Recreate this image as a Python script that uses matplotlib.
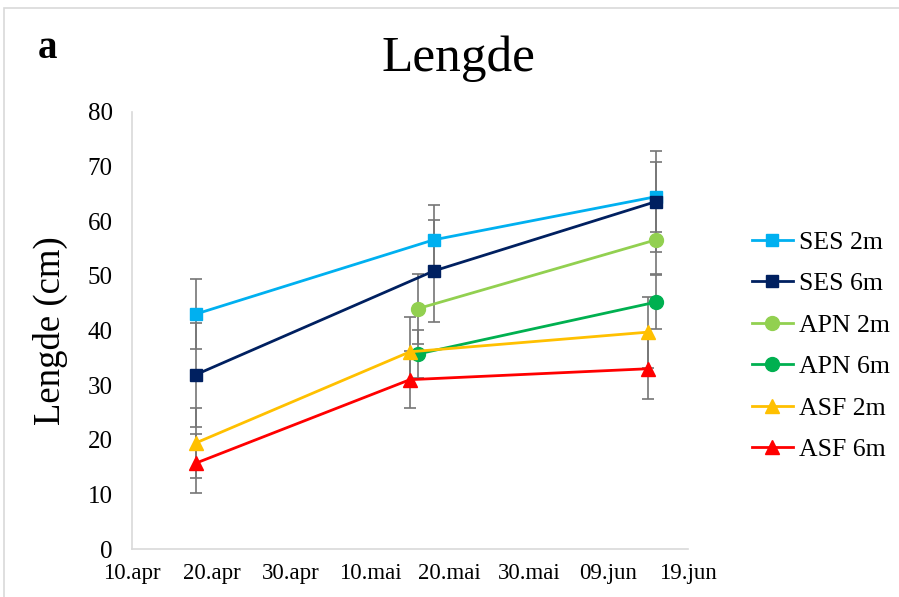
import datetime as dt
import matplotlib
matplotlib.use("Agg")
import matplotlib.pyplot as plt
from matplotlib.patches import Rectangle

plt.rcParams['font.family'] = ['Liberation Serif', 'DejaVu Serif']

# -----------------------------
# DATA
# -----------------------------
series = ["SES 2m", "SES 6m", "APN 2m", "APN 6m", "ASF 2m", "ASF 6m"]

ses2_dates = ["2015-04-18", "2015-05-18", "2015-06-15"]
ses2_vals = [43.0, 56.6, 64.5]
ses2_err = [6.4, 6.4, 6.4]

ses6_dates = ["2015-04-18", "2015-05-18", "2015-06-15"]
ses6_vals = [31.9, 50.9, 63.6]
ses6_err = [9.5, 9.3, 9.3]

apn2_dates = ["2015-05-16", "2015-06-15"]
apn2_vals = [44.0, 56.6]
apn2_err = [6.4, 6.2]

apn6_dates = ["2015-05-16", "2015-06-15"]
apn6_vals = [35.7, 45.2]
apn6_err = [4.4, 4.9]

asf2_dates = ["2015-04-18", "2015-05-15", "2015-06-14"]
asf2_vals = [19.4, 36.1, 39.7]
asf2_err = [6.4, 6.4, 6.5]

asf6_dates = ["2015-04-18", "2015-05-15", "2015-06-14"]
asf6_vals = [15.7, 31.0, 33.0]
asf6_err = [5.4, 5.2, 5.5]

tick_dates = ["2015-04-10", "2015-04-20", "2015-04-30", "2015-05-10",
              "2015-05-20", "2015-05-30", "2015-06-09", "2015-06-19"]
tick_labels = ["10.apr", "20.apr", "30.apr", "10.mai",
               "20.mai", "30.mai", "09.jun", "19.jun"]

all_dates = [ses2_dates, ses6_dates, apn2_dates, apn6_dates, asf2_dates, asf6_dates]
all_vals = [ses2_vals, ses6_vals, apn2_vals, apn6_vals, asf2_vals, asf6_vals]
all_errs = [ses2_err, ses6_err, apn2_err, apn6_err, asf2_err, asf6_err]

colors = ["#00b0f0", "#002060", "#92d050", "#00b050", "#ffc000", "#ff0000"]
markers = ["s", "s", "o", "o", "^", "^"]
msizes = [8.5, 8.5, 10, 10, 10, 10]


def to_dates(strs):
    return [dt.datetime.strptime(s, "%Y-%m-%d") for s in strs]


# -----------------------------
# PLOT
# -----------------------------
fig = plt.figure(figsize=(8.99, 5.97), dpi=100)
ax = fig.add_axes([0.147, 0.0804, 0.618, 0.732])

for name, d, v, e, c, m, ms in zip(series, all_dates, all_vals, all_errs,
                                    colors, markers, msizes):
    x = to_dates(d)
    ax.errorbar(x, v, yerr=e, fmt="none", ecolor="#767676",
                elinewidth=1.2, capsize=4.3, capthick=1.2, zorder=2)
    ax.plot(x, v, color=c, marker=m, markersize=ms, linewidth=2,
            label=name, zorder=3)

ax.set_ylim(0, 80)
ax.set_yticks(range(0, 81, 10))
ax.set_xlim(dt.datetime(2015, 4, 10), dt.datetime(2015, 6, 19))
ax.set_xticks(to_dates(tick_dates))
ax.set_xticklabels(tick_labels)
ax.tick_params(axis="both", length=0)
ax.tick_params(axis="y", pad=14, labelsize=18)
ax.tick_params(axis="x", pad=10, labelsize=16.5)

for s in ["top", "right"]:
    ax.spines[s].set_visible(False)
for s in ["left", "bottom"]:
    ax.spines[s].set_color("#d9d9d9")
    ax.spines[s].set_linewidth(1.2)

ax.set_ylabel("Lengde (cm)", fontsize=26.5, labelpad=14)

fig.text(0.51, 0.902, "Lengde", fontsize=37, ha="center", va="center")
fig.text(0.053, 0.918, "a", fontsize=28, fontweight="bold",
         ha="center", va="center")

ax.legend(loc="center left", bbox_to_anchor=(1.097, 0.465), frameon=False,
          fontsize=18.5, handlelength=1.6, handletextpad=0.25,
          labelspacing=0.72, borderaxespad=0)

# light frame around the whole chart
fig.patches.append(Rectangle((0.0045, -0.01), 1.2, 0.997, transform=fig.transFigure,
                             fill=False, edgecolor="#d9d9d9", linewidth=1.2))

fig.savefig("out.png", dpi=100)
